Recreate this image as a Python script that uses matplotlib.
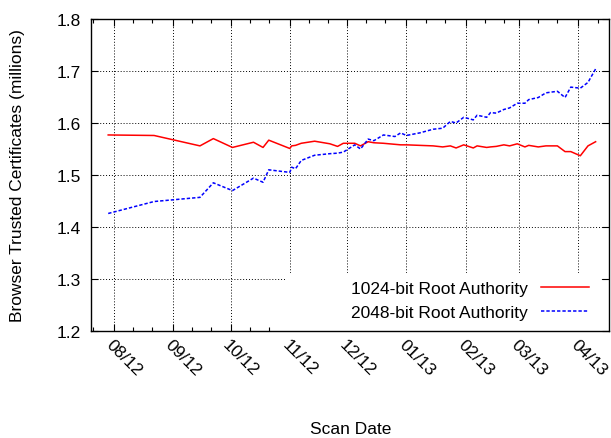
import numpy as np
import matplotlib
matplotlib.use('Agg')
import matplotlib.pyplot as plt
import matplotlib.dates as mdates
from matplotlib.patches import Rectangle

plt.rcParams['font.family'] = ['Liberation Sans', 'DejaVu Sans']
plt.rcParams['font.size'] = 12.5

# scan dates and counts (millions)
scan_dates = ['2012-07-29', '2012-08-22', '2012-09-15', '2012-09-22', '2012-10-02',
              '2012-10-13', '2012-10-18', '2012-10-21', '2012-11-01', '2012-11-02',
              '2012-11-04', '2012-11-07', '2012-11-14', '2012-11-22', '2012-11-26',
              '2012-11-29', '2012-12-05', '2012-12-08', '2012-12-12', '2012-12-15',
              '2012-12-20', '2012-12-26', '2012-12-29', '2013-01-01', '2013-01-08',
              '2013-01-15', '2013-01-20', '2013-01-24', '2013-01-27', '2013-01-31',
              '2013-02-05', '2013-02-07', '2013-02-12', '2013-02-14', '2013-02-17',
              '2013-02-21', '2013-02-24', '2013-02-28', '2013-03-04', '2013-03-06',
              '2013-03-11', '2013-03-15', '2013-03-21', '2013-03-25', '2013-03-28',
              '2013-04-02', '2013-04-06', '2013-04-10']

root_1024 = [1.577, 1.576, 1.556, 1.570, 1.553, 1.563, 1.553, 1.567, 1.551, 1.556,
             1.557, 1.561, 1.565, 1.560, 1.555, 1.561, 1.561, 1.556, 1.564, 1.562,
             1.561, 1.559, 1.558, 1.558, 1.557, 1.556, 1.554, 1.556, 1.552, 1.558,
             1.552, 1.556, 1.553, 1.554, 1.555, 1.558, 1.556, 1.560, 1.554, 1.557,
             1.554, 1.556, 1.556, 1.545, 1.545, 1.537, 1.556, 1.564]

root_2048 = [1.426, 1.449, 1.457, 1.485, 1.470, 1.494, 1.486, 1.510, 1.505, 1.515,
             1.512, 1.528, 1.538, 1.541, 1.542, 1.544, 1.558, 1.550, 1.569, 1.566,
             1.577, 1.574, 1.581, 1.576, 1.581, 1.588, 1.590, 1.603, 1.600, 1.611,
             1.606, 1.615, 1.611, 1.620, 1.619, 1.626, 1.629, 1.638, 1.638, 1.645,
             1.649, 1.658, 1.661, 1.649, 1.669, 1.667, 1.678, 1.704]

dates = np.array(scan_dates, dtype='datetime64[D]')

W, H = 611, 439
fig = plt.figure(figsize=(W / 100, H / 100), dpi=100)
ax = fig.add_axes([91 / W, 1 - 332 / H, 518 / W, 312 / H])

ax.plot(dates, root_1024, color='#ff0000', lw=1.1, label='1024-bit Root Authority')
ax.plot(dates, root_2048, color='#0000ff', lw=1.1, ls=(0, (2.2, 1.3)),
        label='2048-bit Root Authority')

ax.set_xlim(np.datetime64('2012-07-20'), np.datetime64('2013-04-17'))
ax.set_ylim(1.2, 1.8)
ax.set_yticks(np.arange(1.2, 1.81, 0.1))
ax.yaxis.set_major_formatter(plt.FormatStrFormatter('%.1f'))

ax.xaxis.set_major_locator(mdates.MonthLocator(bymonthday=1))
ax.xaxis.set_minor_locator(mdates.DayLocator(bymonthday=[11, 21]))
ax.xaxis.set_major_formatter(mdates.DateFormatter('%m/%y'))

ax.tick_params(which='both', direction='in', top=True, right=True, color='black')
ax.tick_params(which='major', length=5, width=0.8)
ax.tick_params(which='minor', length=3, width=0.8)
ax.tick_params(axis='y', pad=7)
ax.tick_params(axis='x', pad=4)
for lab in ax.get_xticklabels():
    lab.set_rotation(-45)
    lab.set_ha('left')
    lab.set_va('top')
    lab.set_rotation_mode('anchor')

ax.set_axisbelow(True)
ax.grid(True, which='major', color='black', ls=(0, (1, 2)), lw=0.7)
for s in ax.spines.values():
    s.set_linewidth(1.0)

# white box behind the key, hides the grid
ax.add_patch(Rectangle((0.3745, 0.0), 0.608, 0.186, transform=ax.transAxes,
                       facecolor='white', edgecolor='none', zorder=1))

ax.legend(loc='lower right', bbox_to_anchor=(0.961, 0.035), frameon=False,
          markerfirst=False, borderpad=0, borderaxespad=0, handlelength=2.75,
          handletextpad=0.75, labelspacing=0.5)

ax.set_ylabel('Browser Trusted Certificates (millions)')
ax.yaxis.set_label_coords(-0.127, 0.5)
fig.text(351 / W, 1 - 430 / H, 'Scan Date', ha='center', va='center')

fig.savefig('out.png', dpi=100)
